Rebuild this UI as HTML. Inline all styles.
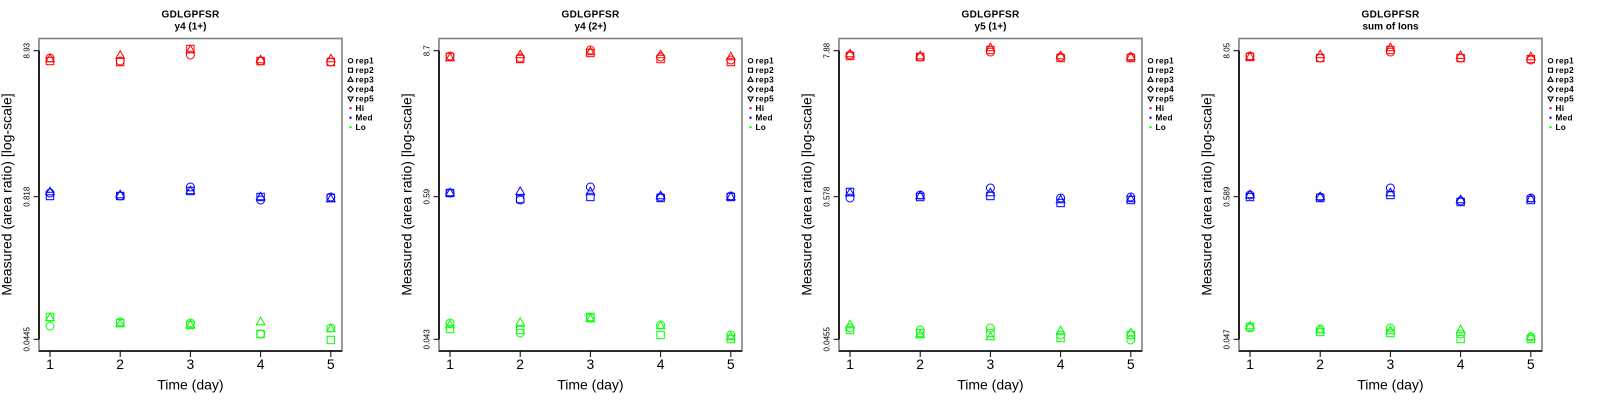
<!DOCTYPE html>
<html><head><meta charset="utf-8"><style>
html,body{margin:0;padding:0;background:#fff;}
svg{display:block;}
text{font-family:"Liberation Sans",Arial,sans-serif;fill:#000;}
</style></head><body>
<svg width="1600" height="400" viewBox="0 0 1600 400" xmlns="http://www.w3.org/2000/svg">
<defs>
<circle id="c" r="4"/>
<rect id="s" x="-3.7" y="-3.7" width="7.4" height="7.4"/>
<path id="t" d="M0,-4.7 L4.3,2.7 L-4.3,2.7Z"/>
<g id="frame">
<rect x="39" y="38.5" width="303" height="312.5" fill="none" stroke="#808080" stroke-width="1.6"/>
<line x1="39" y1="50.7" x2="39" y2="339.3" stroke="#000" stroke-width="1.6"/>
<line x1="39" y1="351" x2="342" y2="351" stroke="#000" stroke-width="1.6"/>
<g stroke="#000" stroke-width="1">
<line x1="33.5" y1="50.7" x2="39" y2="50.7"/><line x1="33.5" y1="196.7" x2="39" y2="196.7"/><line x1="33.5" y1="339.3" x2="39" y2="339.3"/>
<line x1="50" y1="351" x2="50" y2="357"/><line x1="120.2" y1="351" x2="120.2" y2="357"/><line x1="190.4" y1="351" x2="190.4" y2="357"/><line x1="260.6" y1="351" x2="260.6" y2="357"/><line x1="330.8" y1="351" x2="330.8" y2="357"/>
</g>
<g font-size="14" text-anchor="middle">
<text x="50" y="369">1</text><text x="120.2" y="369">2</text><text x="190.4" y="369">3</text><text x="260.6" y="369">4</text><text x="330.8" y="369">5</text>
<text x="190.4" y="389.3">Time (day)</text>
<text transform="translate(11.7,194.5) rotate(-90)">Measured (area ratio) [log-scale]</text>
</g>
<text x="190.5" y="17.3" font-size="10" font-weight="bold" text-anchor="middle" letter-spacing="0.3">GDLGPFSR</text>
<g fill="none" stroke="#000" stroke-width="1.1">
<circle cx="350.5" cy="60.7" r="2.2"/>
<rect x="348.5" y="68.2" width="4" height="4"/>
<path d="M350.5,77 L353,81.3 L348,81.3Z"/>
<path d="M350.5,86.4 L353.3,89.2 L350.5,92 L347.7,89.2Z"/>
<path d="M350.5,101.4 L353,97 L348,97Z"/>
</g>
<circle cx="350.5" cy="108.2" r="1.2" fill="#f00"/>
<circle cx="350.5" cy="117.7" r="1.2" fill="#00f"/>
<circle cx="350.5" cy="127.2" r="1.2" fill="#0f0"/>
<g font-size="8.2" font-weight="bold" letter-spacing="0.3">
<text x="355.5" y="63.7">rep1</text><text x="355.5" y="73.2">rep2</text><text x="355.5" y="82.7">rep3</text><text x="355.5" y="92.2">rep4</text><text x="355.5" y="101.7">rep5</text>
<text x="355.5" y="111.2">Hi</text><text x="355.5" y="120.7">Med</text><text x="355.5" y="130.2">Lo</text>
</g>
</g>
</defs>
<rect width="1600" height="400" fill="#fff"/>

<!-- Panel 1 -->
<g>
<use href="#frame"/>
<text x="190.5" y="29.3" font-size="10" font-weight="bold" text-anchor="middle">y4 (1+)</text>
<g font-size="8" text-anchor="middle">
<text transform="translate(29.5,50.7) rotate(-90)">8.93</text>
<text transform="translate(29.5,196.7) rotate(-90)">0.818</text>
<text transform="translate(29.5,339.3) rotate(-90)">0.0445</text>
</g>
<g fill="none" stroke="#f00" stroke-width="1">
<use href="#c" x="50" y="58"/><use href="#s" x="50" y="61"/><use href="#t" x="50" y="59"/>
<use href="#c" x="120.2" y="61"/><use href="#s" x="120.2" y="62"/><use href="#t" x="120.2" y="55.5"/>
<use href="#c" x="190.4" y="55"/><use href="#s" x="190.4" y="49"/><use href="#t" x="190.4" y="50"/>
<use href="#c" x="260.6" y="61"/><use href="#s" x="260.6" y="61"/><use href="#t" x="260.6" y="60"/>
<use href="#c" x="330.8" y="62"/><use href="#s" x="330.8" y="62"/><use href="#t" x="330.8" y="59"/>
</g>
<g fill="none" stroke="#00f" stroke-width="1">
<use href="#c" x="50" y="193"/><use href="#s" x="50" y="196"/><use href="#t" x="50" y="192"/>
<use href="#c" x="120.2" y="196"/><use href="#s" x="120.2" y="196"/><use href="#t" x="120.2" y="195"/>
<use href="#c" x="190.4" y="187"/><use href="#s" x="190.4" y="191"/><use href="#t" x="190.4" y="191"/>
<use href="#c" x="260.6" y="200"/><use href="#s" x="260.6" y="197"/><use href="#t" x="260.6" y="197"/>
<use href="#c" x="330.8" y="197"/><use href="#s" x="330.8" y="198"/><use href="#t" x="330.8" y="199"/>
</g>
<g fill="none" stroke="#0f0" stroke-width="1">
<use href="#c" x="50" y="326"/><use href="#s" x="50" y="317"/><use href="#t" x="50" y="318"/>
<use href="#c" x="120.2" y="322"/><use href="#s" x="120.2" y="323"/><use href="#t" x="120.2" y="324"/>
<use href="#c" x="190.4" y="323"/><use href="#s" x="190.4" y="325"/><use href="#t" x="190.4" y="325"/>
<use href="#c" x="260.6" y="334"/><use href="#s" x="260.6" y="334"/><use href="#t" x="260.6" y="322"/>
<use href="#c" x="330.8" y="328"/><use href="#s" x="330.8" y="340"/><use href="#t" x="330.8" y="329"/>
</g>
</g>

<!-- Panel 2 -->
<g transform="translate(400,0)">
<use href="#frame"/>
<text x="190.5" y="29.3" font-size="10" font-weight="bold" text-anchor="middle">y4 (2+)</text>
<g font-size="8" text-anchor="middle">
<text transform="translate(29.5,50.7) rotate(-90)">8.7</text>
<text transform="translate(29.5,196.7) rotate(-90)">0.59</text>
<text transform="translate(29.5,339.3) rotate(-90)">0.043</text>
</g>
<g fill="none" stroke="#f00" stroke-width="1">
<use href="#c" x="50" y="56"/><use href="#s" x="50" y="57"/><use href="#t" x="50" y="58"/>
<use href="#c" x="120.2" y="58"/><use href="#s" x="120.2" y="59"/><use href="#t" x="120.2" y="55"/>
<use href="#c" x="190.4" y="50"/><use href="#s" x="190.4" y="53"/><use href="#t" x="190.4" y="52"/>
<use href="#c" x="260.6" y="57"/><use href="#s" x="260.6" y="59"/><use href="#t" x="260.6" y="55"/>
<use href="#c" x="330.8" y="60"/><use href="#s" x="330.8" y="62"/><use href="#t" x="330.8" y="57"/>
</g>
<g fill="none" stroke="#00f" stroke-width="1">
<use href="#c" x="50" y="193"/><use href="#s" x="50" y="193"/><use href="#t" x="50" y="193"/>
<use href="#c" x="120.2" y="200"/><use href="#s" x="120.2" y="199"/><use href="#t" x="120.2" y="191.7"/>
<use href="#c" x="190.4" y="187"/><use href="#s" x="190.4" y="197"/><use href="#t" x="190.4" y="192"/>
<use href="#c" x="260.6" y="197"/><use href="#s" x="260.6" y="198"/><use href="#t" x="260.6" y="196"/>
<use href="#c" x="330.8" y="196"/><use href="#s" x="330.8" y="197"/><use href="#t" x="330.8" y="197"/>
</g>
<g fill="none" stroke="#0f0" stroke-width="1">
<use href="#c" x="50" y="323"/><use href="#s" x="50" y="329"/><use href="#t" x="50" y="325"/>
<use href="#c" x="120.2" y="333"/><use href="#s" x="120.2" y="330"/><use href="#t" x="120.2" y="322.7"/>
<use href="#c" x="190.4" y="318"/><use href="#s" x="190.4" y="317"/><use href="#t" x="190.4" y="319"/>
<use href="#c" x="260.6" y="325"/><use href="#s" x="260.6" y="335"/><use href="#t" x="260.6" y="326"/>
<use href="#c" x="330.8" y="335"/><use href="#s" x="330.8" y="339"/><use href="#t" x="330.8" y="337"/>
</g>
</g>

<!-- Panel 3 -->
<g transform="translate(800,0)">
<use href="#frame"/>
<text x="190.5" y="29.3" font-size="10" font-weight="bold" text-anchor="middle">y5 (1+)</text>
<g font-size="8" text-anchor="middle">
<text transform="translate(29.5,50.7) rotate(-90)">7.88</text>
<text transform="translate(29.5,196.7) rotate(-90)">0.578</text>
<text transform="translate(29.5,339.3) rotate(-90)">0.0455</text>
</g>
<g fill="none" stroke="#f00" stroke-width="1">
<use href="#c" x="50" y="55"/><use href="#s" x="50" y="56"/><use href="#t" x="50" y="54"/>
<use href="#c" x="120.2" y="57"/><use href="#s" x="120.2" y="57"/><use href="#t" x="120.2" y="56"/>
<use href="#c" x="190.4" y="52"/><use href="#s" x="190.4" y="50"/><use href="#t" x="190.4" y="48"/>
<use href="#c" x="260.6" y="57"/><use href="#s" x="260.6" y="58"/><use href="#t" x="260.6" y="56"/>
<use href="#c" x="330.8" y="57"/><use href="#s" x="330.8" y="58"/><use href="#t" x="330.8" y="57"/>
</g>
<g fill="none" stroke="#00f" stroke-width="1">
<use href="#c" x="50" y="198"/><use href="#s" x="50" y="192"/><use href="#t" x="50" y="193"/>
<use href="#c" x="120.2" y="195"/><use href="#s" x="120.2" y="197"/><use href="#t" x="120.2" y="196"/>
<use href="#c" x="190.4" y="188"/><use href="#s" x="190.4" y="196"/><use href="#t" x="190.4" y="193"/>
<use href="#c" x="260.6" y="198"/><use href="#s" x="260.6" y="203"/><use href="#t" x="260.6" y="200"/>
<use href="#c" x="330.8" y="197"/><use href="#s" x="330.8" y="200"/><use href="#t" x="330.8" y="199"/>
</g>
<g fill="none" stroke="#0f0" stroke-width="1">
<use href="#c" x="50" y="328"/><use href="#s" x="50" y="330"/><use href="#t" x="50" y="325"/>
<use href="#c" x="120.2" y="330"/><use href="#s" x="120.2" y="333"/><use href="#t" x="120.2" y="335"/>
<use href="#c" x="190.4" y="328"/><use href="#s" x="190.4" y="333"/><use href="#t" x="190.4" y="337"/>
<use href="#c" x="260.6" y="335"/><use href="#s" x="260.6" y="338"/><use href="#t" x="260.6" y="331"/>
<use href="#c" x="330.8" y="340"/><use href="#s" x="330.8" y="335"/><use href="#t" x="330.8" y="333"/>
</g>
</g>

<!-- Panel 4 -->
<g transform="translate(1200,0)">
<use href="#frame"/>
<text x="190.5" y="29.3" font-size="10" font-weight="bold" text-anchor="middle">sum of Ions</text>
<g font-size="8" text-anchor="middle">
<text transform="translate(29.5,50.7) rotate(-90)">8.05</text>
<text transform="translate(29.5,196.7) rotate(-90)">0.589</text>
<text transform="translate(29.5,339.3) rotate(-90)">0.047</text>
</g>
<g fill="none" stroke="#f00" stroke-width="1">
<use href="#c" x="50" y="56"/><use href="#s" x="50" y="57"/><use href="#t" x="50" y="57"/>
<use href="#c" x="120.2" y="58"/><use href="#s" x="120.2" y="58"/><use href="#t" x="120.2" y="55"/>
<use href="#c" x="190.4" y="52"/><use href="#s" x="190.4" y="50"/><use href="#t" x="190.4" y="48"/>
<use href="#c" x="260.6" y="58"/><use href="#s" x="260.6" y="58"/><use href="#t" x="260.6" y="55.7"/>
<use href="#c" x="330.8" y="60"/><use href="#s" x="330.8" y="59"/><use href="#t" x="330.8" y="57"/>
</g>
<g fill="none" stroke="#00f" stroke-width="1">
<use href="#c" x="50" y="195"/><use href="#s" x="50" y="197"/><use href="#t" x="50" y="195"/>
<use href="#c" x="120.2" y="197"/><use href="#s" x="120.2" y="198"/><use href="#t" x="120.2" y="197"/>
<use href="#c" x="190.4" y="188"/><use href="#s" x="190.4" y="195"/><use href="#t" x="190.4" y="193"/>
<use href="#c" x="260.6" y="201"/><use href="#s" x="260.6" y="202"/><use href="#t" x="260.6" y="200"/>
<use href="#c" x="330.8" y="198"/><use href="#s" x="330.8" y="200"/><use href="#t" x="330.8" y="199"/>
</g>
<g fill="none" stroke="#0f0" stroke-width="1">
<use href="#c" x="50" y="328"/><use href="#s" x="50" y="327"/><use href="#t" x="50" y="326"/>
<use href="#c" x="120.2" y="329"/><use href="#s" x="120.2" y="332"/><use href="#t" x="120.2" y="330"/>
<use href="#c" x="190.4" y="328"/><use href="#s" x="190.4" y="333"/><use href="#t" x="190.4" y="331"/>
<use href="#c" x="260.6" y="334"/><use href="#s" x="260.6" y="339"/><use href="#t" x="260.6" y="330"/>
<use href="#c" x="330.8" y="337"/><use href="#s" x="330.8" y="339"/><use href="#t" x="330.8" y="337"/>
</g>
</g>
</svg>
</body></html>
